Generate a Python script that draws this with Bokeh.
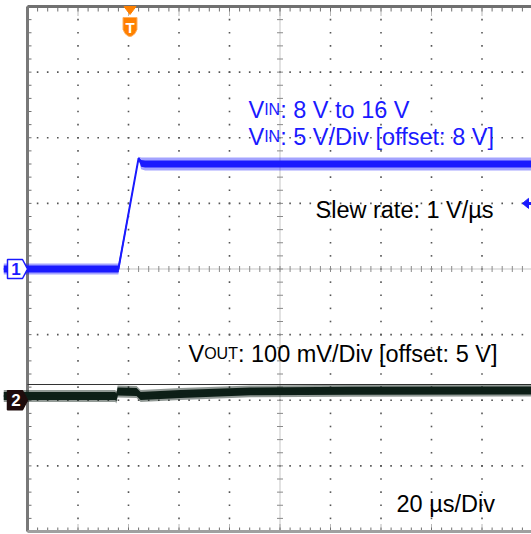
import numpy as np
from bokeh.plotting import figure
from bokeh.models import Label, Range1d
from bokeh.embed import file_html
from bokeh.resources import INLINE

# ---------------- data ----------------
TIME_PER_DIV_US = 20.0
TRIG_POS_DIV = -2.97          # horizontal trigger position (div from centre)
CH1_V_PER_DIV = 5.0
CH1_OFFSET_V = 8.0
CH1_REF_DIV = 0.0
CH1_TRIG_LEVEL_V = 13.0
CH2_V_PER_DIV = 0.1
CH2_OFFSET_V = 5.0
CH2_REF_DIV = -2.0

ch1_t_us = [-50.0, -4.6, 3.4, 4.4, 6.0, 165.0]
ch1_v = [8.0, 8.0, 16.45, 16.05, 16.0, 16.0]
ch1_core_v = [0.27, 0.27, 0.06, 0.25, 0.27, 0.27]
ch1_peak_v = [0.42, 0.42, 0.10, 0.45, 0.50, 0.50]

ch2_t_us = [-50.0, -5.8, -5.4, -4.9, 2.6, 4.2, 20.0, 47.7, 87.3, 165.0]
ch2_v = [5.0065, 5.0065, 5.0040, 5.0133, 5.0126, 5.0065, 5.0095, 5.0135, 5.0145, 5.0149]
ch2_core_v = 0.006
ch2_peak_v = 0.009
ch2_line_v = 5.0240

label_vin_1 = ("V", "IN", ": 8 V to 16 V")
label_vin_2 = ("V", "IN", ": 5 V/Div [offset: 8 V]")
label_vout = ("V", "OUT", ": 100 mV/Div [offset: 5 V]")
label_slew = "Slew rate: 1 V/µs"
label_time = "20 µs/Div"

# ---------------- geometry ----------------
W, H = 531, 534
SX = 50.5                      # px per horizontal div
SY = 65.625                    # px per vertical div
XS = -5 - 27 / SX
XE = XS + W / SX
YE = 4 + 6 / SY
YS = YE - H / SY
PX = 1.0 / SX
PY = 1.0 / SY

BLUE = "#1a1aff"
DARK = "#0d1f17"
ORANGE = "#ff8000"
FONT = "Liberation Sans"


def tx(t):
    return TRIG_POS_DIV + np.asarray(t, dtype=float) / TIME_PER_DIV_US


def y1(v):
    return CH1_REF_DIV + (np.asarray(v, dtype=float) - CH1_OFFSET_V) / CH1_V_PER_DIV


def y2(v):
    return CH2_REF_DIV + (np.asarray(v, dtype=float) - CH2_OFFSET_V) / CH2_V_PER_DIV


def rx(px):      # screen pixel -> div
    return (px - 27) / SX - 5


def ry(py):
    return (268.5 - py) / SY


p = figure(width=W, height=H, x_range=Range1d(XS, XE), y_range=Range1d(YS, YE),
           output_backend="svg", toolbar_location=None, min_border=0,
           background_fill_color="white", border_fill_color="white")
p.axis.visible = False
p.grid.visible = False
p.outline_line_color = None

# ---------------- graticule ----------------
minor_x = np.round(np.arange(-5, 5.0001, 0.2), 6)
minor_y = np.round(np.arange(-4, 4.0001, 0.2), 6)
gx, gy = [], []
for g in [-3, -2, -1, 1, 2, 3]:
    gx += list(minor_x)
    gy += [g] * len(minor_x)
for g in [-4, -3, -2, -1, 1, 2, 3, 4]:
    gx += [g] * len(minor_y)
    gy += list(minor_y)
p.scatter(gx, gy, marker="square", size=1.6, fill_color="#555555", line_color=None)

# centre cross
p.line([-5, 5], [0, 0], line_color="#8a8a8a", line_width=1, line_dash="1 1")
p.line([0, 0], [-4, 4], line_color="#8a8a8a", line_width=1, line_dash="1 1")
p.segment(minor_x, -3 * PY, minor_x, 3 * PY, line_color="#8a8a8a", line_width=1)
p.segment(-3 * PX, minor_y, 3 * PX, minor_y, line_color="#8a8a8a", line_width=1)

# borders and edge ticks
p.segment(minor_x, 4, minor_x, 4 - 5 * PY, line_color="#707070", line_width=1)
major_x = np.arange(-4, 5, 1)
p.segment(major_x, 4, major_x, 4 - 9 * PY, line_color="#707070", line_width=1, line_dash="1 1")
p.segment(-5, minor_y, -5 + 4 * PX, minor_y, line_color="#707070", line_width=1)
p.segment(minor_x, -4, minor_x, -4 + 4 * PY, line_color="#707070", line_width=1)
p.segment(major_x, -4, major_x, -4 + 8 * PY, line_color="#707070", line_width=1, line_dash="1 1")
p.line([-5, 5], [4, 4], line_color="#707070", line_width=3)
p.line([-5, -5], [-4, 4], line_color="#787878", line_width=3)
p.line([-5, 5], [-4, -4], line_color="#a0a0a0", line_width=3)

# ---------------- channel 2 (VOUT) ----------------
c2x = tx(ch2_t_us)
c2y = y2(ch2_v)
p.line([-5, 5], [float(y2(ch2_line_v))] * 2, line_color="#333333", line_width=1)
p.varea(x=c2x, y1=c2y - ch2_peak_v / CH2_V_PER_DIV, y2=c2y + ch2_peak_v / CH2_V_PER_DIV,
        fill_color=DARK, fill_alpha=0.45)
p.varea(x=c2x, y1=c2y - ch2_core_v / CH2_V_PER_DIV, y2=c2y + ch2_core_v / CH2_V_PER_DIV,
        fill_color=DARK, fill_alpha=1.0)
p.line(c2x, c2y, line_color=DARK, line_width=1.5)

# ---------------- channel 1 (VIN) ----------------
c1x = tx(ch1_t_us)
c1y = y1(ch1_v)
pk = np.asarray(ch1_peak_v) / CH1_V_PER_DIV
co = np.asarray(ch1_core_v) / CH1_V_PER_DIV
p.varea(x=c1x, y1=c1y - pk, y2=c1y + pk, fill_color=BLUE, fill_alpha=0.4)
p.varea(x=c1x, y1=c1y - co, y2=c1y + co, fill_color=BLUE, fill_alpha=1.0)
p.line(c1x, c1y, line_color=BLUE, line_width=2)

# ---------------- channel markers ----------------
def ch_marker(yref, fill, line, txt, txt_color):
    xs_px = [7, 22, 27, 22, 7]
    ys_px = [-9.5, -9.5, 0, 9.5, 9.5]
    p.patch([rx(v) for v in xs_px], [yref + v * PY for v in ys_px],
            fill_color=fill, line_color=line, line_width=1.5)
    p.add_layout(Label(x=rx(15.5), y=yref, text=txt, text_align="center",
                       text_baseline="middle", text_font=FONT, text_font_size="17px",
                       text_font_style="bold", text_color=txt_color))


ch_marker(CH1_REF_DIV, "white", BLUE, "1", BLUE)
ch_marker(CH2_REF_DIV, "#1e0c0c", "#1e0c0c", "2", "white")

# trigger position marker (top)
p.patch([TRIG_POS_DIV - 6 * PX, TRIG_POS_DIV + 6 * PX, TRIG_POS_DIV],
        [ry(6), ry(6), ry(14)], fill_color=ORANGE, line_color=ORANGE)
sh_x = [-7, 7, 7, 5, 2, 0, -2, -5, -7]
sh_y = [17, 17, 29, 33, 35.5, 36, 35.5, 33, 29]
p.patch([TRIG_POS_DIV + v * PX for v in sh_x], [ry(v) for v in sh_y],
        fill_color=ORANGE, line_color="#ffb060", line_width=1)
p.add_layout(Label(x=TRIG_POS_DIV, y=ry(26.5), text="T", text_align="center",
                   text_baseline="middle", text_font=FONT, text_font_size="15px",
                   text_font_style="bold", text_color="white"))

# trigger level marker (right edge)
tl = float(y1(CH1_TRIG_LEVEL_V))
p.patch([rx(522), rx(528), rx(528)], [tl, tl + 5 * PY, tl - 5 * PY],
        fill_color=BLUE, line_color=BLUE)
p.line([rx(527), rx(531)], [tl, tl], line_color=BLUE, line_width=3)

# ---------------- texts ----------------
BIG = 23.5
SMALL = 16.0
W_V = 0.667 * BIG


def sub_label(x_px, base_px, parts, color, sub_w_em):
    x0, y0 = rx(x_px), ry(base_px)
    p.add_layout(Label(x=x0, y=y0, text=parts[0], text_font=FONT,
                       text_font_size=f"{BIG}px", text_color=color,
                       text_baseline="alphabetic"))
    p.add_layout(Label(x=x0, y=y0, x_offset=W_V, text=parts[1], text_font=FONT,
                       text_font_size=f"{SMALL}px", text_color=color,
                       text_baseline="alphabetic"))
    p.add_layout(Label(x=x0, y=y0, x_offset=W_V + sub_w_em * SMALL, text=parts[2],
                       text_font=FONT, text_font_size=f"{BIG}px", text_color=color,
                       text_baseline="alphabetic"))


sub_label(248, 109, label_vin_1, BLUE, 1.0)
sub_label(248, 136, label_vin_2, BLUE, 1.0)
sub_label(188, 353, label_vout, "black", 2.111)

p.add_layout(Label(x=rx(315), y=ry(209), text=label_slew, text_font=FONT,
                   text_font_size=f"{BIG}px", text_color="black", text_baseline="alphabetic"))
p.add_layout(Label(x=rx(396), y=ry(503), text=label_time, text_font=FONT,
                   text_font_size=f"{BIG}px", text_color="black", text_baseline="alphabetic"))

open("out.html", "w").write(file_html(p, INLINE))
